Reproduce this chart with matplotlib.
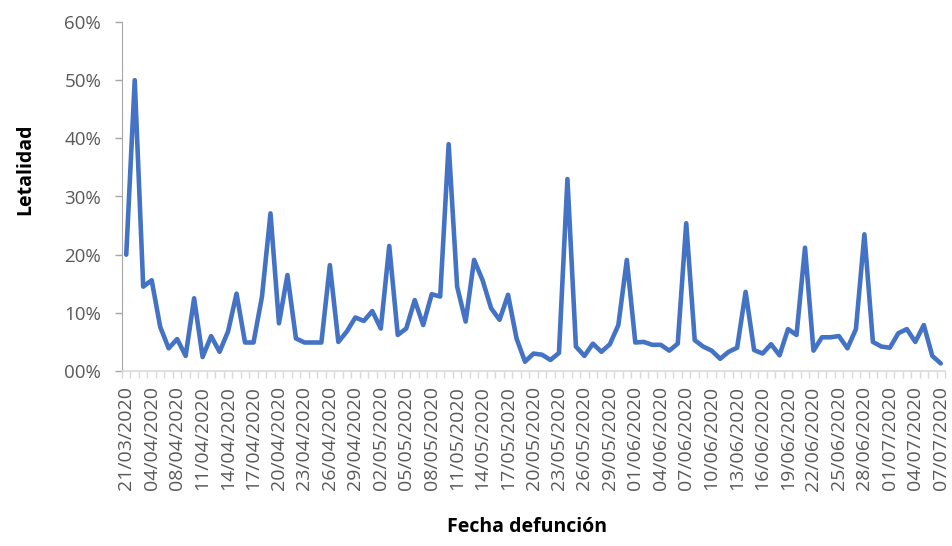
import numpy as np
import matplotlib as mpl
mpl.use("Agg")
import matplotlib.pyplot as plt
from matplotlib.ticker import FixedLocator, FuncFormatter

# ~~~~~~~~ data ~~~~~~~~
fechas = ['21/03/2020', '04/04/2020', '08/04/2020', '11/04/2020', '14/04/2020',
          '17/04/2020', '20/04/2020', '23/04/2020', '26/04/2020', '29/04/2020',
          '02/05/2020', '05/05/2020', '08/05/2020', '11/05/2020', '14/05/2020',
          '17/05/2020', '20/05/2020', '23/05/2020', '26/05/2020', '29/05/2020',
          '01/06/2020', '04/06/2020', '07/06/2020', '10/06/2020', '13/06/2020',
          '16/06/2020', '19/06/2020', '22/06/2020', '25/06/2020', '28/06/2020',
          '01/07/2020', '04/07/2020', '07/07/2020']

letalidad = [20.0, 50.0, 14.5, 15.6, 7.6, 3.9, 5.5, 2.6, 12.5, 2.4,
             6.0, 3.3, 6.8, 13.3, 4.9, 4.9, 12.8, 27.1, 8.2, 16.5,
             5.6, 4.9, 4.9, 4.9, 18.2, 5.0, 6.8, 9.2, 8.6, 10.3,
             7.3, 21.5, 6.2, 7.3, 12.2, 7.9, 13.2, 12.8, 39.0, 14.5,
             8.5, 19.1, 15.6, 10.8, 8.8, 13.1, 5.6, 1.6, 3.0, 2.8,
             1.9, 3.1, 33.0, 4.2, 2.6, 4.7, 3.3, 4.6, 7.9, 19.1,
             4.9, 5.0, 4.5, 4.5, 3.5, 4.7, 25.4, 5.3, 4.2, 3.5,
             2.1, 3.3, 4.0, 13.6, 3.6, 3.0, 4.6, 2.7, 7.2, 6.2,
             21.2, 3.5, 5.8, 5.8, 6.0, 3.9, 7.2, 23.5, 5.0, 4.2,
             4.0, 6.5, 7.2, 5.0, 7.9, 2.6, 1.3]
# ~~~~~~~~~~~~~~~~~~~~~~~~~~~~~~~~~~~~~~~~~~~~~~~

plt.rcParams['font.family'] = ['Open Sans', 'DejaVu Sans']
gris = '#595959'

y = np.array(letalidad) / 100.0
x = np.arange(len(y))

fig = plt.figure(figsize=(9.52, 5.46), dpi=100)
ax = fig.add_axes([122/952, 1-371/546, 823/952, 349/546])

ax.plot(x, y, color='#4472C4', lw=3.3, solid_joinstyle='round', solid_capstyle='round')

ax.set_xlim(-0.5, len(y) - 0.5)
ax.set_ylim(0, 0.6)

# y axis
ax.set_yticks(np.arange(0, 0.61, 0.1))
ax.yaxis.set_major_formatter(FuncFormatter(lambda v, p: '%02d%%' % round(v*100)))
ax.tick_params(axis='y', direction='out', length=5, width=1, color='#a6a6a6',
               labelsize=13.5, labelcolor=gris, pad=10)

# x axis: labels every 3 days, small ticks between categories
ax.xaxis.set_major_locator(FixedLocator(x[::3]))
ax.set_xticklabels(fechas, rotation=90, fontsize=14, color=gris)
ax.xaxis.set_minor_locator(FixedLocator(np.arange(-0.5, len(y), 1.0)))
ax.tick_params(axis='x', which='major', length=0, pad=11)
ax.tick_params(axis='x', which='minor', direction='out', length=5, width=1, color='#d9d9d9')

for s in ['top', 'right']:
    ax.spines[s].set_visible(False)
ax.spines['left'].set_color('#a6a6a6')
ax.spines['bottom'].set_color('#d9d9d9')
ax.spines['bottom'].set_linewidth(1.2)

ax.set_ylabel('Letalidad', fontsize=14, fontweight='bold', color='black')
ax.yaxis.set_label_coords(-0.1057, 0.579)
ax.set_xlabel('Fecha defunción', fontsize=14, fontweight='bold', color='black')
ax.xaxis.set_label_coords(0.4927, -0.418)

fig.savefig('out.png', dpi=100)
